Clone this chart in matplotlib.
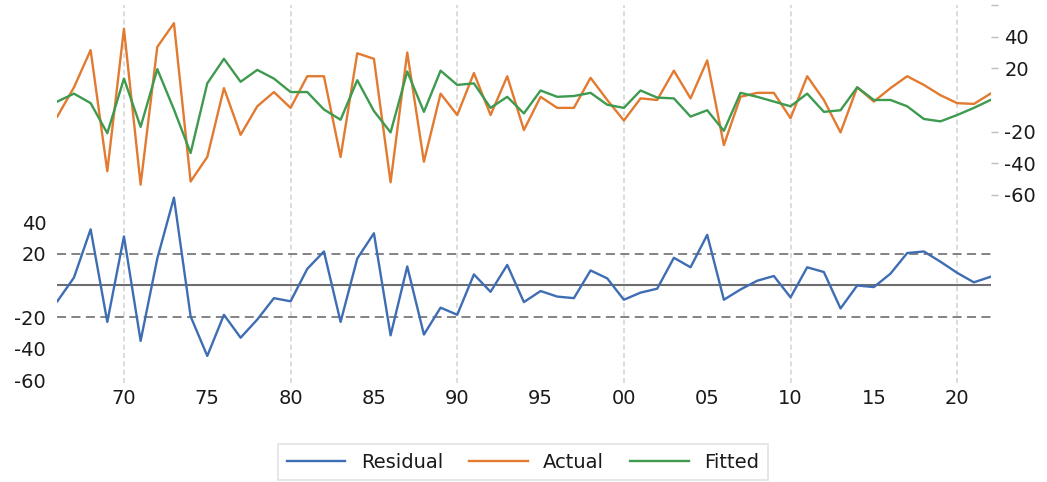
import matplotlib
matplotlib.use('Agg')
import matplotlib.pyplot as plt
from matplotlib.lines import Line2D
import numpy as np

# yearly observations, 1966-2022
years = np.arange(1966, 2023)

actual = [-10.5, 8, 31.5, -45, 45, -53.5, 33.5, 48.5, -51.5, -36,
          7.5, -22, -4, 5, -5, 15, 15, -36, 29.5, 26,
          -52, 30, -39, 4, -9.5, 17, -9.5, 15, -19, 2,
          -5, -5, 14, 0, -13, 1, 0, 18.5, 1, 25,
          -28.5, 2, 4.5, 4.5, -11.5, 15, 0, -20.5, 8, -1,
          7.5, 15, 9.5, 3, -2, -2.5, 4]

fitted = [-1, 4, -2, -21, 13.5, -17, 19.5, -6, -33.5, 10.5,
          26, 11.5, 19, 13.5, 5, 5, -6, -12.5, 12.5, -7,
          -20.5, 18, -7.5, 18.5, 9.5, 10.5, -5, 2, -8.5, 6,
          2, 2.5, 4.5, -3, -5, 6, 1.5, 1, -10.5, -6.5,
          -19.5, 4.5, 2, -1, -4, 4, -7.5, -6.5, 8, 0,
          0, -4, -12, -13.5, -9.5, -5, 0]

residual = [-10, 5, 35.5, -23, 31, -35, 17, 55.5, -19.5, -44.5,
            -18.5, -33, -21.5, -8, -10, 10.5, 21.5, -23, 17, 33,
            -31.5, 12, -31, -14, -18.5, 7, -4, 13, -10.5, -3.5,
            -7, -8, 9.5, 4.5, -9, -4.5, -2, 17.5, 11.5, 32,
            -9, -2.5, 3, 6, -7.5, 11.5, 8.5, -14.5, 0, -1,
            7.5, 20.5, 21.5, 15, 8, 2, 5.5]

x_ticks = [1970, 1975, 1980, 1985, 1990, 1995, 2000, 2005, 2010, 2015, 2020]
x_ticklabels = ['70', '75', '80', '85', '90', '95', '00', '05', '10', '15', '20']
left_ticks = [40, 20, -20, -40, -60]
right_ticks = [60, 40, 20, -20, -40, -60]
right_ticklabels = ['', '40', '20', '-20', '-40', '-60']

c_res = '#3f6db3'
c_act = '#e27a30'
c_fit = '#3e9a4f'
txt = '#1a1a1a'

plt.rcParams['font.family'] = 'DejaVu Sans'

fig = plt.figure(figsize=(10.47, 4.82), dpi=100)
W, H = 1047, 482
ax = fig.add_axes([57.3 / W, (H - 383) / H, (990.5 - 57.3) / W, 378 / H])
ax2 = ax.twinx()

# residual panel (left axis)
ax.set_ylim(-61.6, 177.2)
ax.set_xlim(1966, 2022)
for xv in range(1970, 2021, 10):
    ax.axvline(xv, color='#d6d6d6', lw=1.2, ls=(0, (3, 2)), zorder=0)
ax.axhline(0, color='#6e6e6e', lw=1.5, zorder=1)
ax.axhline(20, color='#7a7a7a', lw=1.3, ls=(0, (5, 3)), zorder=1)
ax.axhline(-20, color='#7a7a7a', lw=1.3, ls=(0, (5, 3)), zorder=1)
ax.plot(years, residual, color=c_res, lw=1.7, zorder=3)

# actual / fitted panel (right axis)
ax2.set_ylim(-178.8, 60)
ax2.plot(years, actual, color=c_act, lw=1.7, zorder=3)
ax2.plot(years, fitted, color=c_fit, lw=1.7, zorder=4)

for a in (ax, ax2):
    for s in a.spines.values():
        s.set_visible(False)

ax.set_xticks(x_ticks)
ax.set_xticklabels(x_ticklabels)
ax.set_yticks(left_ticks)
ax.set_yticklabels([str(v) for v in left_ticks])
ax.tick_params(axis='x', length=0, pad=4, labelsize=14, labelcolor=txt)
ax.tick_params(axis='y', length=0, pad=8, labelsize=14, labelcolor=txt)

ax2.set_yticks(right_ticks)
ax2.set_yticklabels(right_ticklabels)
ax2.tick_params(axis='y', length=5, width=1, color='#bdbdbd', pad=5,
                labelsize=14, labelcolor=txt)

handles = [Line2D([], [], color=c_res, lw=1.7),
           Line2D([], [], color=c_act, lw=1.7),
           Line2D([], [], color=c_fit, lw=1.7)]
leg = fig.legend(handles, ['Residual', 'Actual', 'Fitted'], loc='center',
                 bbox_to_anchor=(523 / W, 1 - 462 / H), ncol=3, fontsize=14,
                 frameon=True, fancybox=False, edgecolor='#dcdcdc',
                 handlelength=3.0, handletextpad=0.8, columnspacing=1.35,
                 borderpad=0.45)
leg.get_frame().set_linewidth(1.2)
for t in leg.get_texts():
    t.set_color(txt)

fig.savefig('out.png', dpi=100)
